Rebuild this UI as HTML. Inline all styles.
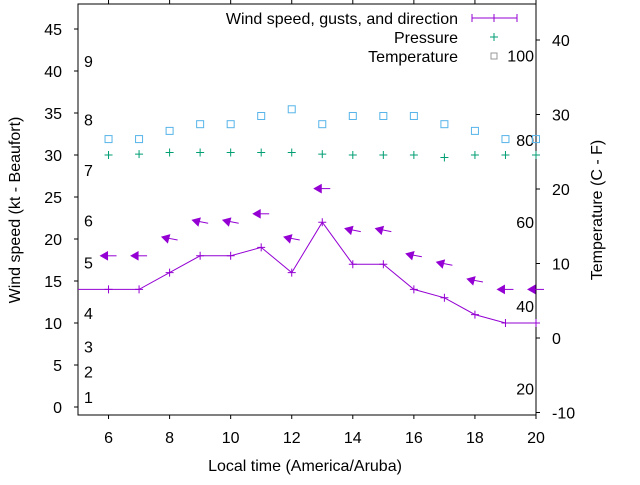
<!DOCTYPE html>
<html><head><meta charset="utf-8"><style>
body{margin:0;background:#fff;}
svg{font-family:"Liberation Sans",sans-serif;}
</style></head><body>
<svg width="640" height="480">
<g id="axes"></g>
<g id="marks"></g>
</svg>
<script>
const hours=[5,6,7,8,9,10,11,12,13,14,15,16,17,18,19,20];
const windSpeed=[14,14,14,16,18,18,19,16,22,17,17,14,13,11,10,10];
const gustHours=[6,7,8,9,10,11,12,13,14,15,16,17,18,19,20];
const gusts=[18,18,20,22,22,23,20,26,21,21,18,17,15,14,14];
const gustDir=[0,0,15,15,15,0,15,0,15,15,15,15,15,0,0];
const pressHours=[6,7,8,9,10,11,12,13,14,15,16,17,18,19,20];
const pressure=[30,30.1,30.3,30.3,30.3,30.3,30.3,30.1,30,30,30,29.7,30,30,30];
const tempHours=[6,7,8,9,10,11,12,13,14,15,16,17,18,19,20];
const temperature=[26.7,26.7,27.8,28.7,28.7,29.8,30.7,28.7,29.8,29.8,29.8,28.7,27.8,26.7,26.7];
const xTicks=[6,8,10,12,14,16,18,20];
const yTicks=[0,5,10,15,20,25,30,35,40,45];
const y2Ticks=[-10,0,10,20,30,40];
const beaufort=[[1,1.2],[2,4.2],[3,7.2],[4,11.2],[5,17.2],[6,22.2],[7,28.2],[8,34.2],[9,41.2]];
const fahr=[[20,-6.8],[40,4.3],[60,15.6],[80,26.6],[100,37.9]];
const L=78,R=536,T=4,B=415;
const X=h=>L+(h-5)*(R-L)/15;
const Y=v=>407-v*8.4;
const Y2=v=>338-v*7.45;
const NS='http://www.w3.org/2000/svg';
function mk(p,tag,at,txt){const e=document.createElementNS(NS,tag);for(const k in at)e.setAttribute(k,at[k]);if(txt!==undefined)e.textContent=txt;p.appendChild(e);return e;}
const ax=document.getElementById('axes'),mg=document.getElementById('marks');
let e=mk(ax,'rect',{x:L,y:T,width:R-L,height:B-T,fill:'none',stroke:'#000','stroke-width':1});

xTicks.forEach(t=>{mk(ax,'line',{x1:X(t),x2:X(t),y1:B,y2:B+4,stroke:'#000'});mk(ax,'line',{x1:X(t),x2:X(t),y1:T,y2:T-4,stroke:'#000'});
e=mk(ax,'text',{x:X(t),y:443,'text-anchor':'middle','font-size':16},t);});
yTicks.forEach(t=>{mk(ax,'line',{x1:L-4,x2:L,y1:Y(t),y2:Y(t),stroke:'#000'});
e=mk(ax,'text',{x:62,y:Y(t)+6,'text-anchor':'end','font-size':16},t);});
y2Ticks.forEach(t=>{mk(ax,'line',{x1:R,x2:R+4,y1:Y2(t),y2:Y2(t),stroke:'#000'});
e=mk(ax,'text',{x:552,y:Y2(t)+6,'font-size':16},t);});
beaufort.forEach(b=>{e=mk(ax,'text',{x:84,y:Y(b[1])+6,'font-size':16},b[0]);});
fahr.forEach(f=>{e=mk(ax,'text',{x:534,y:Y2(f[1])+6,'text-anchor':'end','font-size':16},f[0]);});
e=mk(ax,'text',{x:305,y:471,'text-anchor':'middle','font-size':16},'Local time (America/Aruba)');
e=mk(ax,'text',{x:0,y:0,'text-anchor':'middle','font-size':16,transform:'translate(20,210) rotate(-90)'},'Wind speed (kt - Beaufort)');
e=mk(ax,'text',{x:0,y:0,'text-anchor':'middle','font-size':16,transform:'translate(602,210) rotate(-90)'},'Temperature (C - F)');
const pts=hours.map((h,i)=>X(h)+','+Y(windSpeed[i])).join(' ');
e=mk(mg,'polyline',{points:pts,fill:'none',stroke:'#9400d3','stroke-width':1});
hours.forEach((h,i)=>{if(i===0)return;const x=X(h),y=Y(windSpeed[i]);e=mk(mg,'path',{d:`M${x-4},${y}h8M${x},${y-4}v8`,stroke:'#9400d3'});});
gustHours.forEach((h,i)=>{const x=X(h),y=Y(gusts[i]);const a=gustDir[i]*Math.PI/180;const dx=Math.cos(a),dy=Math.sin(a);
const g=mk(mg,'g',{});
mk(g,'line',{x1:x-7*dx,y1:y-7*dy,x2:x+8,y2:y+(gustDir[i]?1:0),stroke:'#9400d3'});
const hx=x-8*dx,hy=y-8*dy;
mk(g,'path',{d:`M${hx},${hy}L${hx+7*dx+4*dy},${hy+7*dy-4*dx}L${hx+7*dx-4*dy},${hy+7*dy+4*dx}Z`,fill:'#9400d3',stroke:'#9400d3'});});
pressHours.forEach((h,i)=>{const x=X(h),y=Y(pressure[i]);e=mk(mg,'path',{d:`M${x-4},${y}h8M${x},${y-4}v8`,stroke:'#009e73'});});
tempHours.forEach((h,i)=>{const x=X(h),y=Y2(temperature[i]);e=mk(mg,'rect',{x:x-3.5,y:y-3.5,width:7,height:7,fill:'none',stroke:'#56b4e9'});});
const lg=mk(document.querySelector('svg'),'g',{});
const le=[['Wind speed, gusts, and direction',18],['Pressure',37],['Temperature',56]];
le.forEach(l=>{e=mk(lg,'text',{x:458,y:l[1]+6,'text-anchor':'end','font-size':16},l[0]);});
mk(lg,'path',{d:'M472,18h45M472,14v8M494,14v8M517,14v8',stroke:'#9400d3'});
mk(lg,'path',{d:'M490,37h8M494,33v8',stroke:'#009e73'});
mk(lg,'rect',{x:491,y:53,width:6,height:6,fill:'none',stroke:'#999'});
</script>
</body></html>
